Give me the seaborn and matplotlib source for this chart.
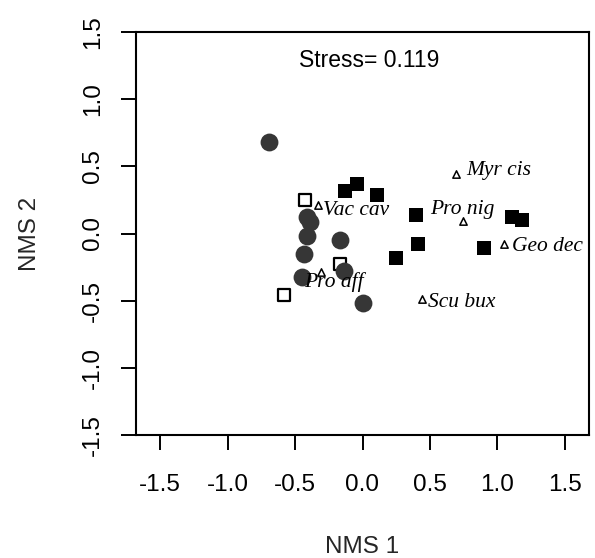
import matplotlib
matplotlib.use("Agg")
import matplotlib.pyplot as plt
import seaborn as sns
import pandas as pd

# ---- data ----
circle_x = [-0.69, -0.415, -0.39, -0.415, -0.17, -0.435, -0.14, -0.45, 0.00]
circle_y = [0.68, 0.12, 0.085, -0.015, -0.05, -0.15, -0.28, -0.325, -0.52]

open_sq_x = [-0.43, -0.17, -0.58]
open_sq_y = [0.25, -0.226, -0.456]

filled_sq_x = [-0.13, -0.04, 0.11, 0.40, 0.41, 0.25, 1.11, 1.18, 0.90]
filled_sq_y = [0.32, 0.365, 0.29, 0.134, -0.077, -0.184, 0.12, 0.097, -0.11]

species = ["Myr cis", "Vac cav", "Pro nig", "Geo dec", "Pro aff", "Scu bux"]
species_x = [0.69, -0.33, 0.745, 1.05, -0.305, 0.44]
species_y = [0.445, 0.21, 0.09, -0.077, -0.283, -0.49]

stress_text = "Stress= 0.119"
x_ticks = [-1.5, -1.0, -0.5, 0.0, 0.5, 1.0, 1.5]
y_ticks = [-1.5, -1.0, -0.5, 0.0, 0.5, 1.0, 1.5]
x_label = "NMS 1"
y_label = "NMS 2"

# ---- layout (label offsets relative to triangles, in data units) ----
label_dx = [0.08, 0.035, -0.245, 0.06, -0.125, 0.045]
label_dy = [0.025, -0.04, 0.09, -0.023, -0.077, -0.02]

sns.set_style("white")
plt.rcParams["font.family"] = ["Liberation Sans", "DejaVu Sans"]

fig = plt.figure(figsize=(5.95, 5.58), dpi=100)
ax = fig.add_axes([136 / 595, 1 - 435 / 558, 453 / 595, 403 / 558])

df_c = pd.DataFrame({"x": circle_x, "y": circle_y})
df_o = pd.DataFrame({"x": open_sq_x, "y": open_sq_y})
df_f = pd.DataFrame({"x": filled_sq_x, "y": filled_sq_y})
df_s = pd.DataFrame({"x": species_x, "y": species_y, "name": species})

sns.scatterplot(data=df_o, x="x", y="y", marker="s", s=85, color="white",
                edgecolor="black", linewidth=1.6, ax=ax, zorder=3)
sns.scatterplot(data=df_c, x="x", y="y", marker="o", s=165, color="#363636",
                edgecolor="#363636", linewidth=0, ax=ax, zorder=4)
sns.scatterplot(data=df_f, x="x", y="y", marker="s", s=100, color="black",
                edgecolor="black", linewidth=0, ax=ax, zorder=3)
sns.scatterplot(data=df_s, x="x", y="y", marker="^", s=28, color="white",
                edgecolor="black", linewidth=1.1, ax=ax, zorder=5)

for name, x, y, dx, dy in zip(species, species_x, species_y, label_dx, label_dy):
    ax.text(x + dx, y + dy, name, ha="left", va="center", fontsize=15.5,
            family=["Liberation Serif", "DejaVu Serif"], style="italic",
            color="black", zorder=6)

ax.text(0.05, 1.29, stress_text, ha="center", va="center", fontsize=16.5,
        color="black")

ax.set_xlim(-1.68, 1.68)
ax.set_ylim(-1.5, 1.5)
ax.set_xticks(x_ticks)
ax.set_yticks(y_ticks)
ax.set_xticklabels([f"{v:.1f}" for v in x_ticks])
ax.set_yticklabels([f"{v:.1f}" for v in y_ticks], rotation=90, va="center")
ax.tick_params(axis="both", direction="out", length=11, width=1.4,
               colors="black", labelsize=17.5, bottom=True, left=True)
ax.tick_params(axis="x", pad=17)
ax.tick_params(axis="y", pad=12)

for sp in ax.spines.values():
    sp.set_visible(True)
    sp.set_color("black")
    sp.set_linewidth(1.5)

ax.set_xlabel(x_label, fontsize=17.5, va="center")
ax.set_ylabel(y_label, fontsize=17.5, va="center")
ax.xaxis.set_label_coords(0.499, -0.278)
ax.yaxis.set_label_coords(-0.234, 0.5)

fig.savefig("out.png", dpi=100, facecolor="white")
